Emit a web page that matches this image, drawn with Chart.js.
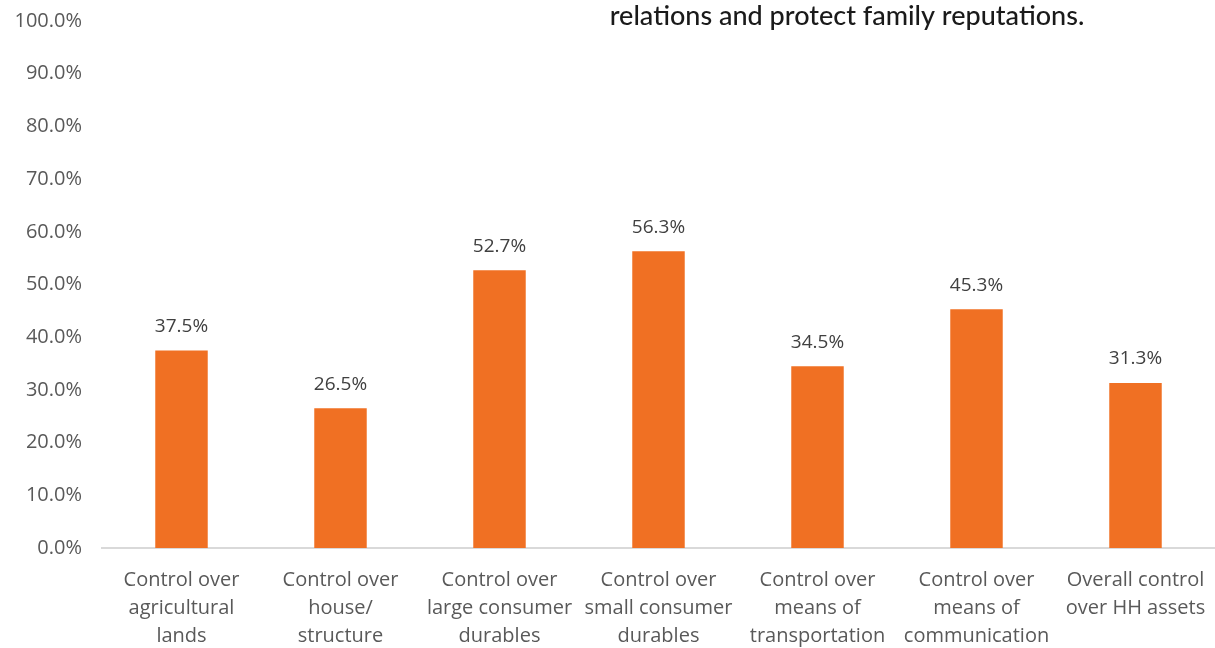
<!DOCTYPE html>
<html>
<head>
<meta charset="utf-8">
<script src="https://cdn.jsdelivr.net/npm/chart.js@4/dist/chart.umd.min.js"></script>
<style>
  html, body { margin: 0; padding: 0; background: #fff; }
  #wrap { width: 1215px; height: 648px; position: relative; }
</style>
</head>
<body>
<div id="wrap"><canvas id="chart"></canvas></div>
<script>
// Control over household assets, share of respondents
const CATEGORIES = [
  ['Control over', 'agricultural', 'lands'],
  ['Control over', 'house/', 'structure'],
  ['Control over', 'large consumer', 'durables'],
  ['Control over', 'small consumer', 'durables'],
  ['Control over', 'means of', 'transportation'],
  ['Control over', 'means of', 'communication'],
  ['Overall control', 'over HH assets'],
];
const VALUES = [37.5, 26.5, 52.7, 56.3, 34.5, 45.3, 31.3];
const Y_TICKS = [0, 10, 20, 30, 40, 50, 60, 70, 80, 90, 100];
const HEADER_TEXT = 'relations and protect family reputations.';

const BAR_COLOR = '#F07023';
const TEXT_COLOR = '#595959';
const FONT = "'Open Sans', sans-serif";

// value labels above each bar
const valueLabels = {
  id: 'valueLabels',
  afterDatasetsDraw(chart) {
    const { ctx } = chart;
    const meta = chart.getDatasetMeta(0);
    ctx.save();
    ctx.font = `19px ${FONT}`;
    ctx.fillStyle = '#404040';
    ctx.textAlign = 'center';
    ctx.textBaseline = 'middle';
    meta.data.forEach((bar, i) => {
      ctx.fillText(VALUES[i].toFixed(1) + '%', bar.x, bar.y - 24);
    });
    ctx.restore();
  }
};

// leftover line of the surrounding document text
const headerText = {
  id: 'headerText',
  afterDraw(chart) {
    const { ctx } = chart;
    ctx.save();
    ctx.font = `500 27px Lato, sans-serif`;
    ctx.fillStyle = '#1a1a1a';
    ctx.textAlign = 'center';
    ctx.textBaseline = 'middle';
    ctx.fillText(HEADER_TEXT, 847, 16);
    ctx.restore();
  }
};

new Chart(document.getElementById('chart'), {
  type: 'bar',
  data: {
    labels: CATEGORIES,
    datasets: [{
      data: VALUES,
      backgroundColor: BAR_COLOR,
      borderWidth: 0,
      categoryPercentage: 1,
      barPercentage: 0.33,
    }]
  },
  options: {
    responsive: true,
    maintainAspectRatio: false,
    animation: false,
    layout: { padding: { top: 21, right: 0, left: 0, bottom: 0 } },
    plugins: {
      legend: { display: false },
      title: { display: false },
      tooltip: { enabled: false },
    },
    scales: {
      x: {
        grid: { display: false, drawTicks: false },
        border: { display: true, color: '#d9d9d9', width: 2 },
        ticks: {
          color: TEXT_COLOR,
          font: { family: FONT, size: 20, lineHeight: 1.4 },
          padding: 18,
          maxRotation: 0,
          autoSkip: false,
        },
        afterFit(scale) {
          scale.height = 100;
          scale.paddingLeft = 0;
          scale.paddingRight = 0;
        }
      },
      y: {
        min: 0,
        max: 100,
        afterBuildTicks(scale) {
          scale.ticks = Y_TICKS.map(v => ({ value: v }));
        },
        grid: { display: false, drawTicks: false },
        border: { display: false },
        ticks: {
          color: TEXT_COLOR,
          font: { family: FONT, size: 20 },
          padding: 20,
          callback: v => v.toFixed(1) + '%',
        },
        afterFit(scale) {
          scale.width = 102;
          scale.paddingTop = 0;
          scale.paddingBottom = 0;
        }
      }
    }
  },
  plugins: [valueLabels, headerText]
});
</script>
</body>
</html>
